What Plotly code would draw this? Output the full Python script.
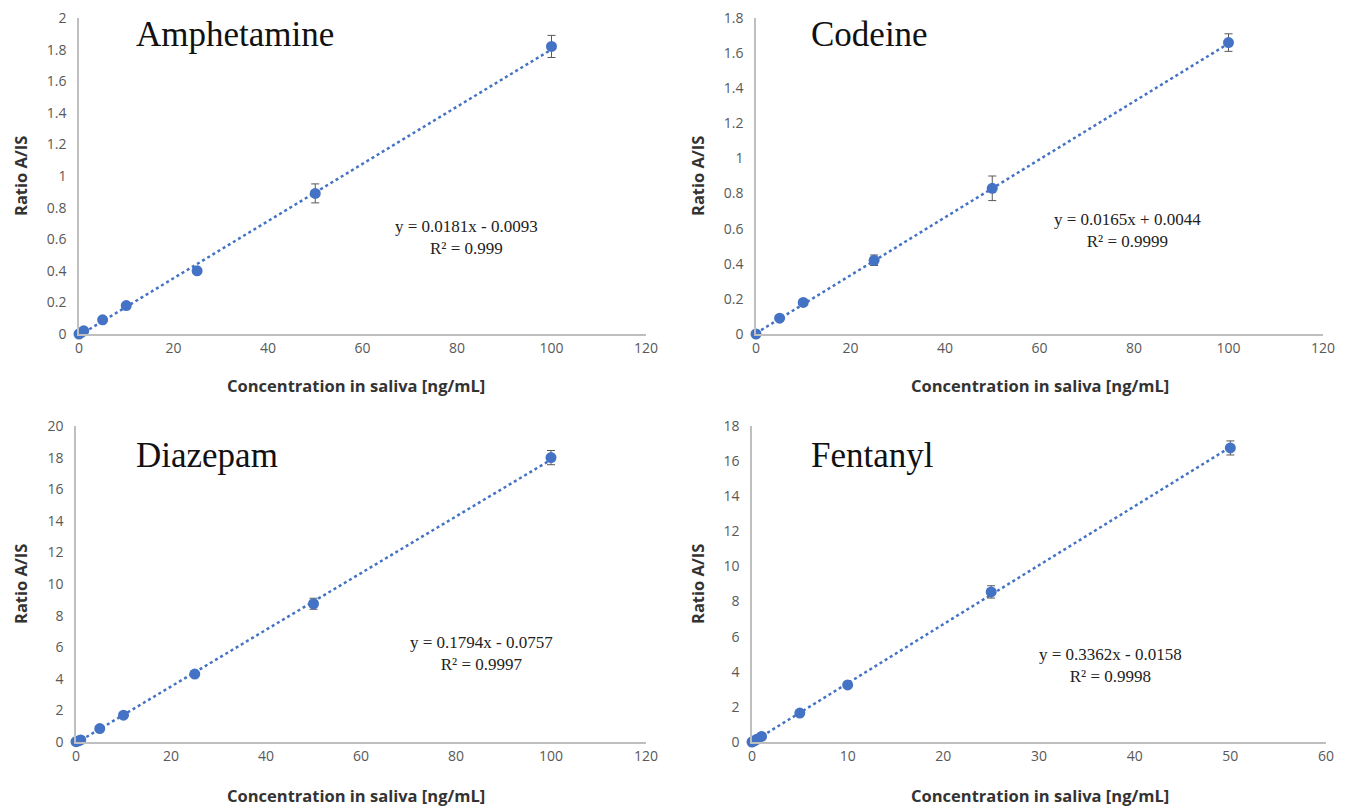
import plotly.graph_objects as go

# ---------------- data ----------------
names = ["Amphetamine", "Codeine", "Diazepam", "Fentanyl"]

amph_x = [0, 0.5, 1, 5, 10, 25, 50, 100]
amph_y = [0.0, 0.01, 0.02, 0.09, 0.18, 0.40, 0.89, 1.82]
amph_err = [0, 0, 0, 0.005, 0.01, 0.015, 0.06, 0.07]

cod_x = [0, 5, 10, 25, 50, 100]
cod_y = [0.0, 0.09, 0.18, 0.42, 0.83, 1.66]
cod_err = [0, 0.005, 0.01, 0.03, 0.07, 0.05]

dia_x = [0, 0.5, 1, 5, 10, 25, 50, 100]
dia_y = [0.02, 0.07, 0.13, 0.85, 1.70, 4.30, 8.75, 18.0]
dia_err = [0, 0, 0, 0.05, 0.08, 0.1, 0.35, 0.45]

fen_x = [0, 0.25, 0.5, 1, 5, 10, 25, 50]
fen_y = [0.0, 0.07, 0.15, 0.32, 1.65, 3.25, 8.55, 16.75]
fen_err = [0, 0, 0, 0, 0.05, 0.08, 0.35, 0.4]

slopes = [0.0181, 0.0165, 0.1794, 0.3362]
intercepts = [-0.0093, 0.0044, -0.0757, -0.0158]
eq_text = ["y = 0.0181x - 0.0093<br>R² = 0.999",
           "y = 0.0165x + 0.0044<br>R² = 0.9999",
           "y = 0.1794x - 0.0757<br>R² = 0.9997",
           "y = 0.3362x - 0.0158<br>R² = 0.9998"]

x_max_axis = [120, 120, 120, 60]
x_dticks = [20, 20, 20, 10]
y_max_axis = [2, 1.8, 20, 18]
y_dticks = [0.2, 0.2, 2, 2]

xs = [amph_x, cod_x, dia_x, fen_x]
ys = [amph_y, cod_y, dia_y, fen_y]
errs = [amph_err, cod_err, dia_err, fen_err]

# ---------------- layout geometry ----------------
OFF = 8                      # default page body margin
FW, FH = 1355 - OFF, 809 - OFF
ML, MR, MT, MB = 40, 10, 5, 10
PW, PH = FW - ML - MR, FH - MT - MB
dx = lambda v: (v - OFF - ML) / PW          # screen pixel -> paper x
dy = lambda v: (FH - MB - (v - OFF)) / PH   # screen pixel -> paper y
x_doms = [[dx(79), dx(646)], [dx(756), dx(1323)], [dx(76), dx(646)], [dx(752), dx(1326)]]
y_doms = [[dy(334), dy(18)], [dy(334), dy(18)], [dy(742), dy(426)], [dy(742), dy(426)]]

title_pos = [(134, 35), (809, 35), (134, 455), (809, 455)]
eq_pos = [(466, 237), (1127, 231), (481, 653), (1110, 665)]
ytitle_pos = [(20, 176), (697, 176), (20, 584), (697, 584)]
xtitle_pos = [(356, 385), (1040, 385), (356, 795), (1040, 795)]

BLUE = "#4472C4"
fig = go.Figure()
annotations = []

for i in range(4):
    ax = "" if i == 0 else str(i + 1)
    xa, ya = "x" + ax, "y" + ax
    xmax = max(xs[i])
    fig.add_trace(go.Scatter(
        x=[0, xmax], y=[intercepts[i], slopes[i] * xmax + intercepts[i]],
        mode="lines", line=dict(color=BLUE, width=2.5, dash="dot"),
        xaxis=xa, yaxis=ya, showlegend=False, hoverinfo="skip", cliponaxis=True))
    fig.add_trace(go.Scatter(
        x=xs[i], y=ys[i], mode="markers",
        marker=dict(color=BLUE, size=11),
        error_y=dict(type="data", array=errs[i], visible=True,
                     color="#595959", thickness=1, width=4),
        xaxis=xa, yaxis=ya, showlegend=False, cliponaxis=False))

    common_font = dict(family="Open Sans, DejaVu Sans, sans-serif", size=14, color="#595959")
    fig.layout["xaxis" + ax] = dict(
        domain=x_doms[i], range=[0, x_max_axis[i] * (1 + 1e-7)], dtick=x_dticks[i], tick0=0,
        showgrid=False, zeroline=False, showline=True, linecolor="#bfbfbf",
        linewidth=1.5, ticks="", tickfont=common_font, anchor=ya, fixedrange=True,
        automargin=False, ticklabeloverflow="allow")
    fig.layout["yaxis" + ax] = dict(
        domain=y_doms[i], range=[0, y_max_axis[i] * (1 + 1e-7)], dtick=y_dticks[i], tick0=0,
        showgrid=False, zeroline=False, showline=True, linecolor="#bfbfbf",
        linewidth=1.5, ticks="", tickfont=common_font, anchor=xa, fixedrange=True,
        ticklabelstandoff=8, automargin=False, ticklabeloverflow="allow")

    tx, ty = title_pos[i]
    annotations.append(dict(text=names[i], x=dx(tx), y=dy(ty), xref="paper", yref="paper",
                            xanchor="left", yanchor="middle", showarrow=False,
                            font=dict(family="Liberation Serif, Times New Roman, serif",
                                      size=35, color="#111111")))
    ex, ey = eq_pos[i]
    annotations.append(dict(text=eq_text[i], x=dx(ex), y=dy(ey), xref="paper", yref="paper",
                            xanchor="center", yanchor="middle", showarrow=False, align="center",
                            font=dict(family="Liberation Serif, Times New Roman, serif",
                                      size=17, color="#222222")))
    yx, yy = ytitle_pos[i]
    annotations.append(dict(text="<b>Ratio A/IS</b>", x=dx(yx), y=dy(yy), xref="paper", yref="paper",
                            xanchor="center", yanchor="middle", showarrow=False, textangle=-90,
                            font=dict(family="Open Sans, DejaVu Sans, sans-serif", size=16.5,
                                      color="#333333")))
    xx, xy = xtitle_pos[i]
    annotations.append(dict(text="<b>Concentration in saliva [ng/mL]</b>", x=dx(xx), y=dy(xy),
                            xref="paper", yref="paper", xanchor="center", yanchor="middle",
                            showarrow=False,
                            font=dict(family="Open Sans, DejaVu Sans, sans-serif", size=16.5,
                                      color="#333333")))

fig.update_layout(width=FW, height=FH, margin=dict(l=ML, r=MR, t=MT, b=MB),
                  paper_bgcolor="white", plot_bgcolor="white",
                  annotations=annotations)

fig.write_html("out.html")
